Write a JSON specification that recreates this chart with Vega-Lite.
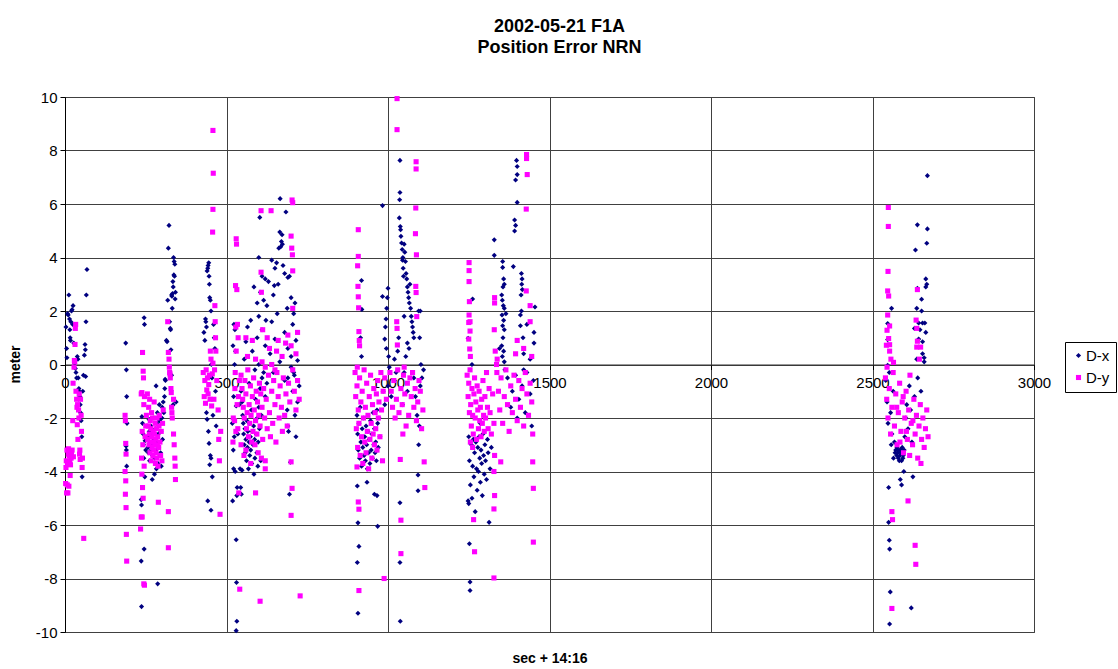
{
"$schema": "https://vega.github.io/schema/vega-lite/v6.json",
"width": 969, "height": 535,
"autosize": "none",
"padding": {"left": 65, "top": 97, "right": 84, "bottom": 37},
"background": "white",
"title": {"text": ["2002-05-21 F1A", "Position Error NRN"], "font": "Liberation Sans", "fontSize": 18, "fontWeight": "bold", "color": "black", "anchor": "middle", "offset": 33, "lineHeight": 21, "dx": 10},
"config": {"view": {"stroke": "#404040", "strokeWidth": 1}, "font": "Liberation Sans"},
"data": {"values": [
{"s":"D-x","t":3,"v":1.4},{"s":"D-x","t":5,"v":0.6},{"s":"D-x","t":6,"v":0.25},{"s":"D-x","t":8,"v":1.9},{"s":"D-x","t":10,"v":1.85},{"s":"D-x","t":12,"v":2.6},{"s":"D-x","t":14,"v":1.7},{"s":"D-x","t":15,"v":1.3},{"s":"D-x","t":16,"v":1.0},{"s":"D-x","t":17,"v":0.9},{"s":"D-x","t":18,"v":1.6},{"s":"D-x","t":20,"v":2.0},{"s":"D-x","t":22,"v":2.05},{"s":"D-x","t":24,"v":1.5},{"s":"D-x","t":25,"v":2.2},{"s":"D-x","t":27,"v":0.8},{"s":"D-x","t":30,"v":0.05},{"s":"D-x","t":32,"v":-0.15},{"s":"D-x","t":34,"v":-0.3},{"s":"D-x","t":36,"v":-0.5},{"s":"D-x","t":38,"v":0.3},{"s":"D-x","t":40,"v":0.2},{"s":"D-x","t":41,"v":-0.5},{"s":"D-x","t":43,"v":-0.9},{"s":"D-x","t":44,"v":-1.0},{"s":"D-x","t":46,"v":-1.2},{"s":"D-x","t":47,"v":-1.5},{"s":"D-x","t":48,"v":-1.8},{"s":"D-x","t":50,"v":-2.1},{"s":"D-x","t":52,"v":-2.7},{"s":"D-x","t":53,"v":-4.2},{"s":"D-x","t":55,"v":-1.0},{"s":"D-x","t":57,"v":-0.4},{"s":"D-x","t":60,"v":0.35},{"s":"D-x","t":62,"v":0.75},{"s":"D-x","t":63,"v":0.55},{"s":"D-x","t":65,"v":1.6},{"s":"D-x","t":66,"v":2.6},{"s":"D-x","t":68,"v":3.55},{"s":"D-x","t":64,"v":-0.45},
{"s":"D-x","t":188,"v":0.8},{"s":"D-x","t":190,"v":-0.2},{"s":"D-x","t":191,"v":-1.2},{"s":"D-x","t":192,"v":-2.2},{"s":"D-x","t":189,"v":-3.05},{"s":"D-x","t":190,"v":-3.2},{"s":"D-x","t":191,"v":-3.8},
{"s":"D-x","t":245,"v":1.75},{"s":"D-x","t":246,"v":1.5},{"s":"D-x","t":238,"v":-1.95},{"s":"D-x","t":240,"v":-2.2},{"s":"D-x","t":242,"v":-2.6},{"s":"D-x","t":244,"v":-3.5},{"s":"D-x","t":247,"v":-4.2},{"s":"D-x","t":236,"v":-5.05},{"s":"D-x","t":237,"v":-5.25},{"s":"D-x","t":245,"v":-6.9},{"s":"D-x","t":236,"v":-7.35},{"s":"D-x","t":237,"v":-9.05},{"s":"D-x","t":243,"v":-3.0},{"s":"D-x","t":248,"v":-2.85},{"s":"D-x","t":250,"v":-3.2},
{"s":"D-x","t":255,"v":-2.7},{"s":"D-x","t":257,"v":-3.1},{"s":"D-x","t":258,"v":-3.3},{"s":"D-x","t":260,"v":-2.05},{"s":"D-x","t":261,"v":-2.5},{"s":"D-x","t":262,"v":-3.6},{"s":"D-x","t":263,"v":-2.9},{"s":"D-x","t":265,"v":-3.0},{"s":"D-x","t":266,"v":-2.3},{"s":"D-x","t":267,"v":-3.2},{"s":"D-x","t":268,"v":-2.7},{"s":"D-x","t":270,"v":-4.3},{"s":"D-x","t":271,"v":-3.4},{"s":"D-x","t":272,"v":-2.6},{"s":"D-x","t":273,"v":-2.0},{"s":"D-x","t":275,"v":-3.0},{"s":"D-x","t":276,"v":-2.8},{"s":"D-x","t":277,"v":-4.1},{"s":"D-x","t":278,"v":-3.5},{"s":"D-x","t":280,"v":-2.4},{"s":"D-x","t":281,"v":-3.2},{"s":"D-x","t":282,"v":-0.8},{"s":"D-x","t":283,"v":-3.9},{"s":"D-x","t":284,"v":-2.9},{"s":"D-x","t":285,"v":-2.2},{"s":"D-x","t":286,"v":-1.8},{"s":"D-x","t":287,"v":-8.2},{"s":"D-x","t":288,"v":-3.7},{"s":"D-x","t":289,"v":-2.6},{"s":"D-x","t":290,"v":-3.1},{"s":"D-x","t":292,"v":-1.5},{"s":"D-x","t":293,"v":-2.1},{"s":"D-x","t":294,"v":-3.4},{"s":"D-x","t":296,"v":-3.3},{"s":"D-x","t":297,"v":-2.5},{"s":"D-x","t":298,"v":-3.8},{"s":"D-x","t":300,"v":-2.0},{"s":"D-x","t":301,"v":-1.6},{"s":"D-x","t":302,"v":-2.8},{"s":"D-x","t":304,"v":-1.4},
{"s":"D-x","t":306,"v":-1.8},{"s":"D-x","t":308,"v":-1.2},{"s":"D-x","t":309,"v":-0.9},{"s":"D-x","t":310,"v":-0.55},{"s":"D-x","t":311,"v":-0.6},{"s":"D-x","t":314,"v":0.9},{"s":"D-x","t":316,"v":0.85},{"s":"D-x","t":318,"v":2.4},{"s":"D-x","t":320,"v":4.35},{"s":"D-x","t":322,"v":5.2},{"s":"D-x","t":324,"v":1.6},{"s":"D-x","t":326,"v":1.35},{"s":"D-x","t":327,"v":1.3},{"s":"D-x","t":328,"v":0.55},{"s":"D-x","t":330,"v":2.6},{"s":"D-x","t":331,"v":2.55},{"s":"D-x","t":332,"v":2.1},{"s":"D-x","t":333,"v":2.65},{"s":"D-x","t":334,"v":3.1},{"s":"D-x","t":335,"v":2.9},{"s":"D-x","t":336,"v":4.0},{"s":"D-x","t":337,"v":3.35},{"s":"D-x","t":338,"v":3.85},{"s":"D-x","t":339,"v":3.3},{"s":"D-x","t":340,"v":3.75},{"s":"D-x","t":341,"v":2.45},{"s":"D-x","t":342,"v":2.7},{"s":"D-x","t":335,"v":-1.5},{"s":"D-x","t":330,"v":-0.4},{"s":"D-x","t":344,"v":-1.4},
{"s":"D-x","t":430,"v":1.2},{"s":"D-x","t":433,"v":0.9},{"s":"D-x","t":435,"v":1.7},{"s":"D-x","t":436,"v":1.6},{"s":"D-x","t":438,"v":1.4},{"s":"D-x","t":440,"v":3.5},{"s":"D-x","t":442,"v":3.6},{"s":"D-x","t":443,"v":3.7},{"s":"D-x","t":445,"v":3.8},{"s":"D-x","t":446,"v":3.3},{"s":"D-x","t":447,"v":3.0},{"s":"D-x","t":448,"v":2.5},{"s":"D-x","t":450,"v":2.4},{"s":"D-x","t":452,"v":2.0},{"s":"D-x","t":453,"v":0.0},{"s":"D-x","t":455,"v":-0.5},{"s":"D-x","t":438,"v":-1.8},{"s":"D-x","t":440,"v":-2.05},{"s":"D-x","t":444,"v":-2.5},{"s":"D-x","t":446,"v":-2.95},{"s":"D-x","t":450,"v":-3.4},{"s":"D-x","t":452,"v":-3.5},{"s":"D-x","t":448,"v":-3.75},{"s":"D-x","t":456,"v":-4.2},{"s":"D-x","t":442,"v":-5.1},{"s":"D-x","t":452,"v":-5.45},{"s":"D-x","t":460,"v":1.5},{"s":"D-x","t":462,"v":1.0},{"s":"D-x","t":464,"v":0.6},{"s":"D-x","t":466,"v":-1.0},{"s":"D-x","t":468,"v":-2.3},{"s":"D-x","t":458,"v":-1.9},
{"s":"D-x","t":523,"v":1.5},{"s":"D-x","t":526,"v":1.3},{"s":"D-x","t":520,"v":0.7},{"s":"D-x","t":528,"v":0.5},{"s":"D-x","t":525,"v":0.0},{"s":"D-x","t":522,"v":-1.2},{"s":"D-x","t":530,"v":-1.55},{"s":"D-x","t":518,"v":-2.2},{"s":"D-x","t":524,"v":-2.7},{"s":"D-x","t":521,"v":-3.2},{"s":"D-x","t":522,"v":-3.9},{"s":"D-x","t":527,"v":-4.0},{"s":"D-x","t":533,"v":-4.6},{"s":"D-x","t":532,"v":-4.9},{"s":"D-x","t":519,"v":-5.1},{"s":"D-x","t":530,"v":-6.55},{"s":"D-x","t":531,"v":-8.15},{"s":"D-x","t":532,"v":-9.6},{"s":"D-x","t":530,"v":-9.95},{"s":"D-x","t":535,"v":-2.6},
{"s":"D-x","t":603,"v":5.5},{"s":"D-x","t":666,"v":6.2},{"s":"D-x","t":684,"v":5.7},{"s":"D-x","t":665,"v":4.95},{"s":"D-x","t":672,"v":4.85},{"s":"D-x","t":673,"v":4.5},{"s":"D-x","t":670,"v":4.6},{"s":"D-x","t":668,"v":4.4},{"s":"D-x","t":662,"v":4.35},{"s":"D-x","t":655,"v":3.8},{"s":"D-x","t":600,"v":4.0},{"s":"D-x","t":640,"v":3.9},{"s":"D-x","t":650,"v":3.6},{"s":"D-x","t":675,"v":3.7},{"s":"D-x","t":680,"v":3.4},{"s":"D-x","t":610,"v":3.3},{"s":"D-x","t":620,"v":3.2},{"s":"D-x","t":690,"v":3.25},{"s":"D-x","t":630,"v":3.1},{"s":"D-x","t":660,"v":3.0},{"s":"D-x","t":695,"v":3.3},{"s":"D-x","t":585,"v":2.9},{"s":"D-x","t":605,"v":2.7},{"s":"D-x","t":645,"v":2.6},{"s":"D-x","t":700,"v":2.5},{"s":"D-x","t":615,"v":2.4},{"s":"D-x","t":595,"v":2.3},{"s":"D-x","t":625,"v":2.2},{"s":"D-x","t":688,"v":2.1},{"s":"D-x","t":657,"v":1.9},{"s":"D-x","t":600,"v":1.8},{"s":"D-x","t":575,"v":1.65},{"s":"D-x","t":640,"v":1.6},{"s":"D-x","t":705,"v":1.5},{"s":"D-x","t":565,"v":1.4},{"s":"D-x","t":610,"v":1.3},{"s":"D-x","t":680,"v":1.2},{"s":"D-x","t":595,"v":1.0},{"s":"D-x","t":650,"v":0.95},{"s":"D-x","t":715,"v":0.9},{"s":"D-x","t":560,"v":0.85},{"s":"D-x","t":620,"v":0.7},{"s":"D-x","t":690,"v":0.6},{"s":"D-x","t":580,"v":0.5},{"s":"D-x","t":635,"v":0.4},{"s":"D-x","t":700,"v":0.3},{"s":"D-x","t":555,"v":0.2},{"s":"D-x","t":665,"v":0.1},{"s":"D-x","t":720,"v":0.15},{"s":"D-x","t":600,"v":0.0},{"s":"D-x","t":588,"v":-0.2},{"s":"D-x","t":645,"v":-0.3},{"s":"D-x","t":710,"v":-0.4},{"s":"D-x","t":570,"v":-0.7},{"s":"D-x","t":690,"v":-0.5},{"s":"D-x","t":708,"v":1.9},{"s":"D-x","t":712,"v":2.3},{"s":"D-x","t":700,"v":-0.1},{"s":"D-x","t":622,"v":1.65},{"s":"D-x","t":648,"v":2.95},
{"s":"D-x","t":545,"v":-1.0},{"s":"D-x","t":548,"v":-1.4},{"s":"D-x","t":550,"v":-1.9},{"s":"D-x","t":552,"v":-2.2},{"s":"D-x","t":553,"v":-2.6},{"s":"D-x","t":555,"v":-3.0},{"s":"D-x","t":557,"v":-2.4},{"s":"D-x","t":558,"v":-3.3},{"s":"D-x","t":560,"v":-2.8},{"s":"D-x","t":562,"v":-3.6},{"s":"D-x","t":563,"v":-2.1},{"s":"D-x","t":565,"v":-3.1},{"s":"D-x","t":566,"v":-2.5},{"s":"D-x","t":568,"v":-3.9},{"s":"D-x","t":570,"v":-2.9},{"s":"D-x","t":571,"v":-2.2},{"s":"D-x","t":572,"v":-3.4},{"s":"D-x","t":574,"v":-2.7},{"s":"D-x","t":575,"v":-3.2},{"s":"D-x","t":577,"v":-1.7},{"s":"D-x","t":578,"v":-3.7},{"s":"D-x","t":580,"v":-2.5},{"s":"D-x","t":582,"v":-3.0},{"s":"D-x","t":584,"v":-2.3},{"s":"D-x","t":585,"v":-4.1},{"s":"D-x","t":587,"v":-2.8},{"s":"D-x","t":588,"v":-3.5},{"s":"D-x","t":590,"v":-1.3},{"s":"D-x","t":592,"v":-2.6},{"s":"D-x","t":594,"v":-3.3},{"s":"D-x","t":595,"v":-2.0},{"s":"D-x","t":597,"v":-3.8},{"s":"D-x","t":598,"v":-2.9},{"s":"D-x","t":600,"v":-1.6},{"s":"D-x","t":602,"v":-2.4},{"s":"D-x","t":604,"v":-0.9},{"s":"D-x","t":606,"v":-3.6},{"s":"D-x","t":608,"v":-1.9},{"s":"D-x","t":610,"v":-0.5},{"s":"D-x","t":540,"v":-1.5},{"s":"D-x","t":542,"v":-3.9},{"s":"D-x","t":544,"v":-4.6},{"s":"D-x","t":546,"v":-4.85},{"s":"D-x","t":548,"v":-3.95},{"s":"D-x","t":615,"v":-0.3},{"s":"D-x","t":620,"v":-1.2},{"s":"D-x","t":625,"v":-0.7},{"s":"D-x","t":680,"v":-0.6},{"s":"D-x","t":688,"v":-1.7},{"s":"D-x","t":690,"v":-2.3},{"s":"D-x","t":692,"v":-2.5},{"s":"D-x","t":698,"v":-3.65},{"s":"D-x","t":695,"v":-4.85},{"s":"D-x","t":705,"v":-1.0},{"s":"D-x","t":708,"v":-0.3},{"s":"D-x","t":712,"v":-1.9},{"s":"D-x","t":715,"v":-2.7},{"s":"D-x","t":720,"v":-1.4},{"s":"D-x","t":725,"v":-0.8},
{"s":"D-x","t":918,"v":3.14},{"s":"D-x","t":919,"v":2.06},{"s":"D-x","t":915,"v":1.0},{"s":"D-x","t":918,"v":0.3},{"s":"D-x","t":983,"v":5.94},{"s":"D-x","t":983,"v":2.54},{"s":"D-x","t":990,"v":0.95},{"s":"D-x","t":992,"v":1.4},{"s":"D-x","t":994,"v":1.7},{"s":"D-x","t":996,"v":2.1},{"s":"D-x","t":998,"v":2.5},{"s":"D-x","t":1000,"v":2.85},{"s":"D-x","t":995,"v":0.6},{"s":"D-x","t":1002,"v":0.3},{"s":"D-x","t":1004,"v":-0.1},{"s":"D-x","t":1037,"v":7.63},{"s":"D-x","t":1037,"v":6.43},{"s":"D-x","t":1036,"v":6.16},{"s":"D-x","t":1035,"v":5.48},{"s":"D-x","t":1038,"v":5.16},{"s":"D-x","t":1039,"v":5.04},{"s":"D-x","t":1040,"v":4.79},{"s":"D-x","t":1042,"v":4.54},{"s":"D-x","t":1044,"v":4.3},{"s":"D-x","t":1046,"v":4.0},{"s":"D-x","t":1045,"v":3.9},{"s":"D-x","t":1047,"v":3.6},{"s":"D-x","t":1048,"v":3.3},{"s":"D-x","t":1050,"v":4.5},{"s":"D-x","t":1052,"v":4.2},{"s":"D-x","t":1054,"v":3.85},{"s":"D-x","t":1056,"v":3.4},{"s":"D-x","t":1058,"v":3.2},{"s":"D-x","t":1060,"v":2.9},{"s":"D-x","t":1062,"v":2.7},{"s":"D-x","t":1064,"v":2.5},{"s":"D-x","t":1066,"v":2.3},{"s":"D-x","t":1068,"v":3.0},{"s":"D-x","t":1070,"v":2.1},{"s":"D-x","t":1072,"v":1.8},{"s":"D-x","t":1074,"v":1.6},{"s":"D-x","t":1076,"v":1.4},{"s":"D-x","t":1078,"v":1.2},{"s":"D-x","t":1080,"v":1.0},{"s":"D-x","t":1060,"v":0.8},{"s":"D-x","t":1030,"v":0.5},{"s":"D-x","t":1033,"v":1.0},{"s":"D-x","t":1020,"v":0.2},{"s":"D-x","t":1025,"v":-0.3},{"s":"D-x","t":1095,"v":2.0},{"s":"D-x","t":1100,"v":2.0},{"s":"D-x","t":1098,"v":1.0},{"s":"D-x","t":1102,"v":0.0},{"s":"D-x","t":1105,"v":-0.5},{"s":"D-x","t":1110,"v":-0.2},{"s":"D-x","t":1050,"v":1.8},{"s":"D-x","t":1055,"v":0.3},{"s":"D-x","t":1065,"v":0.6},
{"s":"D-x","t":904,"v":-1.9},{"s":"D-x","t":906,"v":-2.6},{"s":"D-x","t":908,"v":-3.2},{"s":"D-x","t":910,"v":-2.2},{"s":"D-x","t":912,"v":-3.5},{"s":"D-x","t":914,"v":-1.6},{"s":"D-x","t":916,"v":-2.9},{"s":"D-x","t":918,"v":-3.8},{"s":"D-x","t":920,"v":-2.4},{"s":"D-x","t":922,"v":-3.1},{"s":"D-x","t":924,"v":-2.0},{"s":"D-x","t":926,"v":-3.4},{"s":"D-x","t":928,"v":-2.7},{"s":"D-x","t":930,"v":-3.6},{"s":"D-x","t":932,"v":-2.3},{"s":"D-x","t":934,"v":-3.0},{"s":"D-x","t":936,"v":-3.9},{"s":"D-x","t":938,"v":-2.5},{"s":"D-x","t":940,"v":-3.3},{"s":"D-x","t":942,"v":-2.8},{"s":"D-x","t":944,"v":-3.7},{"s":"D-x","t":946,"v":-2.1},{"s":"D-x","t":948,"v":-3.2},{"s":"D-x","t":950,"v":-2.6},{"s":"D-x","t":952,"v":-3.5},{"s":"D-x","t":954,"v":-1.8},{"s":"D-x","t":956,"v":-3.0},{"s":"D-x","t":958,"v":-2.4},{"s":"D-x","t":960,"v":-3.3},{"s":"D-x","t":962,"v":-2.9},{"s":"D-x","t":964,"v":-3.6},{"s":"D-x","t":966,"v":-1.7},{"s":"D-x","t":968,"v":-2.2},{"s":"D-x","t":970,"v":-3.1},{"s":"D-x","t":972,"v":-2.0},{"s":"D-x","t":975,"v":-2.7},{"s":"D-x","t":905,"v":-4.54},{"s":"D-x","t":935,"v":-4.4},{"s":"D-x","t":958,"v":-4.85},{"s":"D-x","t":966,"v":-4.9},{"s":"D-x","t":907,"v":-5.92},{"s":"D-x","t":968,"v":-6.05},{"s":"D-x","t":910,"v":-6.8},{"s":"D-x","t":905,"v":-7.4},{"s":"D-x","t":907,"v":-9.3},{"s":"D-x","t":1037,"v":-5.17},{"s":"D-x","t":1037,"v":-7.4},{"s":"D-x","t":1038,"v":-9.6},{"s":"D-x","t":1093,"v":-4.13},{"s":"D-x","t":1093,"v":-4.72},{"s":"D-x","t":1095,"v":-3.0},{"s":"D-x","t":1097,"v":-2.3},{"s":"D-x","t":1090,"v":-1.9},{"s":"D-x","t":1085,"v":-1.2},{"s":"D-x","t":1100,"v":-0.8},{"s":"D-x","t":1080,"v":-0.5},{"s":"D-x","t":1060,"v":-1.0},{"s":"D-x","t":1050,"v":-0.3},{"s":"D-x","t":1045,"v":-1.5},{"s":"D-x","t":1020,"v":-0.6},{"s":"D-x","t":1010,"v":-1.2},{"s":"D-x","t":1000,"v":-0.8},{"s":"D-x","t":985,"v":-1.0},{"s":"D-x","t":990,"v":-1.5},
{"s":"D-x","t":1248,"v":0.98},{"s":"D-x","t":1262,"v":2.45},{"s":"D-x","t":1260,"v":0.0},{"s":"D-x","t":1329,"v":4.66},{"s":"D-x","t":1329,"v":4.08},{"s":"D-x","t":1355,"v":3.85},{"s":"D-x","t":1355,"v":3.63},{"s":"D-x","t":1358,"v":3.2},{"s":"D-x","t":1360,"v":3.0},{"s":"D-x","t":1356,"v":2.9},{"s":"D-x","t":1352,"v":2.6},{"s":"D-x","t":1354,"v":2.4},{"s":"D-x","t":1357,"v":2.2},{"s":"D-x","t":1360,"v":2.1},{"s":"D-x","t":1353,"v":1.85},{"s":"D-x","t":1358,"v":1.65},{"s":"D-x","t":1355,"v":1.45},{"s":"D-x","t":1360,"v":1.3},{"s":"D-x","t":1356,"v":1.0},{"s":"D-x","t":1352,"v":0.7},{"s":"D-x","t":1358,"v":0.5},{"s":"D-x","t":1354,"v":0.3},{"s":"D-x","t":1360,"v":0.1},{"s":"D-x","t":1388,"v":3.66},{"s":"D-x","t":1398,"v":7.63},{"s":"D-x","t":1400,"v":7.4},{"s":"D-x","t":1400,"v":7.1},{"s":"D-x","t":1395,"v":6.9},{"s":"D-x","t":1400,"v":6.06},{"s":"D-x","t":1392,"v":5.4},{"s":"D-x","t":1395,"v":5.2},{"s":"D-x","t":1392,"v":4.99},{"s":"D-x","t":1413,"v":3.4},{"s":"D-x","t":1415,"v":3.2},{"s":"D-x","t":1414,"v":3.0},{"s":"D-x","t":1416,"v":2.8},{"s":"D-x","t":1410,"v":1.85},{"s":"D-x","t":1410,"v":1.45},{"s":"D-x","t":1413,"v":2.0},{"s":"D-x","t":1412,"v":2.6},{"s":"D-x","t":1418,"v":1.0},{"s":"D-x","t":1420,"v":0.4},{"s":"D-x","t":1455,"v":2.15},{"s":"D-x","t":1452,"v":1.2},{"s":"D-x","t":1452,"v":0.8},{"s":"D-x","t":1440,"v":0.2},{"s":"D-x","t":1430,"v":1.5},{"s":"D-x","t":1345,"v":0.6},{"s":"D-x","t":1365,"v":1.9},
{"s":"D-x","t":1250,"v":-2.7},{"s":"D-x","t":1252,"v":-3.6},{"s":"D-x","t":1255,"v":-4.5},{"s":"D-x","t":1258,"v":-3.0},{"s":"D-x","t":1260,"v":-5.0},{"s":"D-x","t":1262,"v":-3.8},{"s":"D-x","t":1264,"v":-2.8},{"s":"D-x","t":1266,"v":-4.2},{"s":"D-x","t":1268,"v":-3.3},{"s":"D-x","t":1270,"v":-5.5},{"s":"D-x","t":1272,"v":-2.9},{"s":"D-x","t":1274,"v":-3.9},{"s":"D-x","t":1276,"v":-4.7},{"s":"D-x","t":1278,"v":-3.1},{"s":"D-x","t":1280,"v":-4.0},{"s":"D-x","t":1282,"v":-2.7},{"s":"D-x","t":1284,"v":-3.5},{"s":"D-x","t":1286,"v":-4.4},{"s":"D-x","t":1288,"v":-3.2},{"s":"D-x","t":1290,"v":-3.7},{"s":"D-x","t":1292,"v":-4.9},{"s":"D-x","t":1294,"v":-2.6},{"s":"D-x","t":1296,"v":-3.4},{"s":"D-x","t":1298,"v":-4.1},{"s":"D-x","t":1300,"v":-3.0},{"s":"D-x","t":1302,"v":-3.6},{"s":"D-x","t":1305,"v":-4.3},{"s":"D-x","t":1308,"v":-2.8},{"s":"D-x","t":1310,"v":-3.3},{"s":"D-x","t":1313,"v":-5.9},{"s":"D-x","t":1316,"v":-3.9},{"s":"D-x","t":1320,"v":-3.1},{"s":"D-x","t":1248,"v":-5.1},{"s":"D-x","t":1250,"v":-5.2},{"s":"D-x","t":1252,"v":-6.7},{"s":"D-x","t":1254,"v":-8.13},{"s":"D-x","t":1254,"v":-8.45},{"s":"D-x","t":1286,"v":-2.2},{"s":"D-x","t":1300,"v":-2.0},
{"s":"D-x","t":1362,"v":-0.2},{"s":"D-x","t":1370,"v":-0.5},{"s":"D-x","t":1385,"v":-1.0},{"s":"D-x","t":1395,"v":-0.4},{"s":"D-x","t":1405,"v":-1.3},{"s":"D-x","t":1415,"v":-0.8},{"s":"D-x","t":1425,"v":-1.8},{"s":"D-x","t":1430,"v":-0.3},{"s":"D-x","t":1440,"v":-1.1},{"s":"D-x","t":1445,"v":-2.3},{"s":"D-x","t":1450,"v":-0.6},{"s":"D-x","t":1380,"v":-1.6},{"s":"D-x","t":1400,"v":-2.0},{"s":"D-x","t":1420,"v":-0.2},
{"s":"D-x","t":2670,"v":7.06},{"s":"D-x","t":2559,"v":2.1},{"s":"D-x","t":2547,"v":1.53},{"s":"D-x","t":2547,"v":0.93},{"s":"D-x","t":2547,"v":-0.03},{"s":"D-x","t":2639,"v":5.22},{"s":"D-x","t":2670,"v":5.07},{"s":"D-x","t":2668,"v":4.53},{"s":"D-x","t":2633,"v":4.28},{"s":"D-x","t":2665,"v":3.2},{"s":"D-x","t":2668,"v":3.0},{"s":"D-x","t":2665,"v":2.9},{"s":"D-x","t":2639,"v":2.85},{"s":"D-x","t":2652,"v":2.44},{"s":"D-x","t":2637,"v":2.1},{"s":"D-x","t":2652,"v":2.0},{"s":"D-x","t":2643,"v":1.55},{"s":"D-x","t":2655,"v":1.55},{"s":"D-x","t":2662,"v":1.55},{"s":"D-x","t":2630,"v":1.35},{"s":"D-x","t":2647,"v":1.3},{"s":"D-x","t":2665,"v":1.2},{"s":"D-x","t":2643,"v":0.95},{"s":"D-x","t":2655,"v":0.85},{"s":"D-x","t":2655,"v":0.4},{"s":"D-x","t":2660,"v":0.25},{"s":"D-x","t":2660,"v":0.1},{"s":"D-x","t":2637,"v":0.2},
{"s":"D-x","t":2541,"v":-0.6},{"s":"D-x","t":2545,"v":-1.4},{"s":"D-x","t":2548,"v":-2.2},{"s":"D-x","t":2552,"v":-0.3},{"s":"D-x","t":2556,"v":-1.8},{"s":"D-x","t":2560,"v":-2.6},{"s":"D-x","t":2564,"v":-1.0},{"s":"D-x","t":2568,"v":-2.9},{"s":"D-x","t":2572,"v":-3.2},{"s":"D-x","t":2575,"v":-3.4},{"s":"D-x","t":2578,"v":-3.3},{"s":"D-x","t":2580,"v":-3.5},{"s":"D-x","t":2582,"v":-3.2},{"s":"D-x","t":2585,"v":-3.4},{"s":"D-x","t":2588,"v":-3.3},{"s":"D-x","t":2590,"v":-3.6},{"s":"D-x","t":2592,"v":-3.1},{"s":"D-x","t":2595,"v":-3.4},{"s":"D-x","t":2598,"v":-3.2},{"s":"D-x","t":2600,"v":-2.7},{"s":"D-x","t":2603,"v":-2.0},{"s":"D-x","t":2606,"v":-1.5},{"s":"D-x","t":2610,"v":-2.4},{"s":"D-x","t":2614,"v":-0.8},{"s":"D-x","t":2618,"v":-1.7},{"s":"D-x","t":2622,"v":-2.9},{"s":"D-x","t":2630,"v":-1.2},{"s":"D-x","t":2640,"v":-0.5},{"s":"D-x","t":2650,"v":-1.0},{"s":"D-x","t":2565,"v":-3.5},{"s":"D-x","t":2570,"v":-3.3},{"s":"D-x","t":2576,"v":-3.1},{"s":"D-x","t":2583,"v":-3.6},{"s":"D-x","t":2587,"v":-3.2},{"s":"D-x","t":2594,"v":-3.5},{"s":"D-x","t":2558,"v":-3.0},{"s":"D-x","t":2597,"v":-4.0},{"s":"D-x","t":2586,"v":-4.3},{"s":"D-x","t":2590,"v":-4.5},{"s":"D-x","t":2625,"v":-4.2},{"s":"D-x","t":2550,"v":-4.6},{"s":"D-x","t":2550,"v":-5.9},{"s":"D-x","t":2552,"v":-6.57},{"s":"D-x","t":2553,"v":-6.9},{"s":"D-x","t":2555,"v":-8.5},{"s":"D-x","t":2620,"v":-9.1},{"s":"D-x","t":2553,"v":-9.7},
{"s":"D-y","t":2,"v":-4.45},{"s":"D-y","t":3,"v":-3.85},{"s":"D-y","t":4,"v":-3.6},{"s":"D-y","t":5,"v":-4.8},{"s":"D-y","t":6,"v":-3.2},{"s":"D-y","t":7,"v":-4.5},{"s":"D-y","t":8,"v":-3.7},{"s":"D-y","t":9,"v":-4.8},{"s":"D-y","t":10,"v":-3.35},{"s":"D-y","t":11,"v":-3.15},{"s":"D-y","t":12,"v":-4.55},{"s":"D-y","t":13,"v":-3.4},{"s":"D-y","t":14,"v":-3.3},{"s":"D-y","t":15,"v":-3.6},{"s":"D-y","t":16,"v":-4.15},{"s":"D-y","t":17,"v":-3.75},{"s":"D-y","t":19,"v":-3.5},{"s":"D-y","t":20,"v":-3.3},{"s":"D-y","t":22,"v":-3.2},{"s":"D-y","t":24,"v":-2.1},{"s":"D-y","t":25,"v":-0.7},{"s":"D-y","t":26,"v":-3.45},{"s":"D-y","t":28,"v":-0.1},{"s":"D-y","t":29,"v":0.15},{"s":"D-y","t":30,"v":0.1},{"s":"D-y","t":31,"v":0.75},{"s":"D-y","t":32,"v":1.35},{"s":"D-y","t":33,"v":1.5},{"s":"D-y","t":34,"v":-1.0},{"s":"D-y","t":36,"v":-1.3},{"s":"D-y","t":37,"v":-1.6},{"s":"D-y","t":38,"v":-2.25},{"s":"D-y","t":39,"v":-1.5},{"s":"D-y","t":40,"v":-2.8},{"s":"D-y","t":42,"v":-1.7},{"s":"D-y","t":43,"v":-2.0},{"s":"D-y","t":44,"v":-1.1},{"s":"D-y","t":45,"v":-3.35},{"s":"D-y","t":46,"v":-3.2},{"s":"D-y","t":47,"v":-3.55},{"s":"D-y","t":48,"v":-1.3},{"s":"D-y","t":50,"v":-1.9},{"s":"D-y","t":51,"v":-2.5},{"s":"D-y","t":53,"v":-3.85},{"s":"D-y","t":54,"v":-3.5},{"s":"D-y","t":58,"v":-6.5},
{"s":"D-y","t":186,"v":-1.9},{"s":"D-y","t":187,"v":-2.1},{"s":"D-y","t":188,"v":-2.95},{"s":"D-y","t":189,"v":-3.35},{"s":"D-y","t":186,"v":-4.0},{"s":"D-y","t":188,"v":-4.35},{"s":"D-y","t":187,"v":-4.85},{"s":"D-y","t":189,"v":-5.35},{"s":"D-y","t":190,"v":-6.35},{"s":"D-y","t":191,"v":-7.35},
{"s":"D-y","t":240,"v":0.45},{"s":"D-y","t":242,"v":-0.25},{"s":"D-y","t":243,"v":-0.5},{"s":"D-y","t":238,"v":-1.05},{"s":"D-y","t":236,"v":-1.1},{"s":"D-y","t":244,"v":-1.5},{"s":"D-y","t":246,"v":-1.2},{"s":"D-y","t":239,"v":-2.5},{"s":"D-y","t":241,"v":-3.0},{"s":"D-y","t":237,"v":-3.5},{"s":"D-y","t":245,"v":-3.8},{"s":"D-y","t":238,"v":-4.1},{"s":"D-y","t":240,"v":-4.6},{"s":"D-y","t":242,"v":-5.0},{"s":"D-y","t":236,"v":-5.7},{"s":"D-y","t":239,"v":-5.7},{"s":"D-y","t":234,"v":-6.15},{"s":"D-y","t":244,"v":-8.2},{"s":"D-y","t":246,"v":-8.25},{"s":"D-y","t":248,"v":-2.7},{"s":"D-y","t":250,"v":-2.3},{"s":"D-y","t":252,"v":-1.9},
{"s":"D-y","t":255,"v":-1.1},{"s":"D-y","t":256,"v":-2.8},{"s":"D-y","t":258,"v":-2.3},{"s":"D-y","t":259,"v":-1.6},{"s":"D-y","t":260,"v":-3.0},{"s":"D-y","t":261,"v":-2.6},{"s":"D-y","t":262,"v":-1.3},{"s":"D-y","t":263,"v":-3.3},{"s":"D-y","t":264,"v":-2.1},{"s":"D-y","t":265,"v":-2.9},{"s":"D-y","t":266,"v":-2.4},{"s":"D-y","t":267,"v":-3.6},{"s":"D-y","t":268,"v":-1.8},{"s":"D-y","t":269,"v":-2.7},{"s":"D-y","t":270,"v":-3.1},{"s":"D-y","t":271,"v":-2.0},{"s":"D-y","t":272,"v":-3.4},{"s":"D-y","t":273,"v":-2.5},{"s":"D-y","t":274,"v":-2.9},{"s":"D-y","t":275,"v":-3.2},{"s":"D-y","t":276,"v":-1.4},{"s":"D-y","t":277,"v":-2.6},{"s":"D-y","t":278,"v":-3.0},{"s":"D-y","t":279,"v":-2.2},{"s":"D-y","t":280,"v":-3.7},{"s":"D-y","t":281,"v":-2.8},{"s":"D-y","t":282,"v":-3.3},{"s":"D-y","t":283,"v":-2.4},{"s":"D-y","t":284,"v":-3.5},{"s":"D-y","t":285,"v":-2.0},{"s":"D-y","t":286,"v":-3.0},{"s":"D-y","t":287,"v":-2.7},{"s":"D-y","t":288,"v":-3.8},{"s":"D-y","t":289,"v":-5.15},{"s":"D-y","t":290,"v":-3.1},{"s":"D-y","t":291,"v":-2.3},{"s":"D-y","t":292,"v":-1.9},{"s":"D-y","t":294,"v":-2.9},{"s":"D-y","t":296,"v":-3.4},{"s":"D-y","t":298,"v":-2.5},{"s":"D-y","t":300,"v":-3.6},{"s":"D-y","t":302,"v":-2.2},{"s":"D-y","t":304,"v":-1.7},
{"s":"D-y","t":318,"v":1.6},{"s":"D-y","t":320,"v":0.45},{"s":"D-y","t":322,"v":0.2},{"s":"D-y","t":323,"v":-0.1},{"s":"D-y","t":324,"v":-0.3},{"s":"D-y","t":325,"v":-0.35},{"s":"D-y","t":326,"v":-0.5},{"s":"D-y","t":328,"v":-0.9},{"s":"D-y","t":329,"v":-1.05},{"s":"D-y","t":330,"v":-1.6},{"s":"D-y","t":331,"v":-1.8},{"s":"D-y","t":332,"v":-2.0},{"s":"D-y","t":336,"v":-2.6},{"s":"D-y","t":338,"v":-3.0},{"s":"D-y","t":340,"v":-3.5},{"s":"D-y","t":341,"v":-3.8},{"s":"D-y","t":342,"v":-4.3},{"s":"D-y","t":320,"v":-5.5},{"s":"D-y","t":320,"v":-6.85},{"s":"D-y","t":336,"v":-1.3},
{"s":"D-y","t":428,"v":-0.3},{"s":"D-y","t":431,"v":-1.2},{"s":"D-y","t":433,"v":-0.6},{"s":"D-y","t":435,"v":-1.45},{"s":"D-y","t":437,"v":-0.2},{"s":"D-y","t":439,"v":-0.95},{"s":"D-y","t":441,"v":-0.5},{"s":"D-y","t":443,"v":-1.1},{"s":"D-y","t":445,"v":-0.75},{"s":"D-y","t":447,"v":-0.4},{"s":"D-y","t":449,"v":-1.3},{"s":"D-y","t":450,"v":0.5},{"s":"D-y","t":452,"v":0.2},{"s":"D-y","t":454,"v":-1.55},{"s":"D-y","t":456,"v":-0.35},{"s":"D-y","t":458,"v":0.05},{"s":"D-y","t":458,"v":8.75},{"s":"D-y","t":459,"v":7.15},{"s":"D-y","t":458,"v":5.8},{"s":"D-y","t":457,"v":4.95},{"s":"D-y","t":464,"v":2.2},{"s":"D-y","t":465,"v":1.6},{"s":"D-y","t":466,"v":1.0},{"s":"D-y","t":467,"v":0.5},{"s":"D-y","t":463,"v":-0.2},{"s":"D-y","t":470,"v":-0.6},{"s":"D-y","t":461,"v":-1.3},{"s":"D-y","t":474,"v":-1.7},{"s":"D-y","t":476,"v":-2.8},{"s":"D-y","t":478,"v":-3.6},{"s":"D-y","t":480,"v":-5.6},{"s":"D-y","t":482,"v":-2.5},
{"s":"D-y","t":530,"v":4.7},{"s":"D-y","t":531,"v":4.5},{"s":"D-y","t":528,"v":2.95},{"s":"D-y","t":532,"v":2.8},{"s":"D-y","t":534,"v":1.5},{"s":"D-y","t":529,"v":1.4},{"s":"D-y","t":536,"v":1.0},{"s":"D-y","t":530,"v":0.5},{"s":"D-y","t":527,"v":-0.3},{"s":"D-y","t":526,"v":-0.9},{"s":"D-y","t":533,"v":-1.5},{"s":"D-y","t":521,"v":-2.0},{"s":"D-y","t":525,"v":-2.1},{"s":"D-y","t":535,"v":-2.4},{"s":"D-y","t":529,"v":-2.5},{"s":"D-y","t":520,"v":-2.9},{"s":"D-y","t":538,"v":-4.8},{"s":"D-y","t":541,"v":-8.4},{"s":"D-y","t":540,"v":-0.6},{"s":"D-y","t":537,"v":-1.2},
{"s":"D-y","t":607,"v":5.75},{"s":"D-y","t":638,"v":5.75},{"s":"D-y","t":703,"v":6.15},{"s":"D-y","t":705,"v":6.05},{"s":"D-y","t":700,"v":4.8},{"s":"D-y","t":702,"v":4.35},{"s":"D-y","t":704,"v":4.1},{"s":"D-y","t":607,"v":3.45},{"s":"D-y","t":705,"v":3.5},{"s":"D-y","t":608,"v":2.7},{"s":"D-y","t":705,"v":2.1},{"s":"D-y","t":612,"v":1.3},{"s":"D-y","t":626,"v":1.0},{"s":"D-y","t":690,"v":1.1},{"s":"D-y","t":720,"v":1.2},{"s":"D-y","t":633,"v":0.6},{"s":"D-y","t":655,"v":0.5},{"s":"D-y","t":683,"v":0.8},{"s":"D-y","t":700,"v":0.7},{"s":"D-y","t":565,"v":0.3},{"s":"D-y","t":590,"v":0.2},{"s":"D-y","t":610,"v":0.1},{"s":"D-y","t":640,"v":0.0},{"s":"D-y","t":672,"v":0.3},{"s":"D-y","t":715,"v":0.4},{"s":"D-y","t":580,"v":0.9},{"s":"D-y","t":560,"v":1.0},{"s":"D-y","t":620,"v":-0.1},{"s":"D-y","t":650,"v":-0.2},{"s":"D-y","t":660,"v":0.9},
{"s":"D-y","t":545,"v":-0.4},{"s":"D-y","t":548,"v":-0.9},{"s":"D-y","t":550,"v":-1.3},{"s":"D-y","t":552,"v":-1.6},{"s":"D-y","t":555,"v":-2.0},{"s":"D-y","t":557,"v":-0.6},{"s":"D-y","t":560,"v":-1.1},{"s":"D-y","t":562,"v":-2.4},{"s":"D-y","t":564,"v":-1.8},{"s":"D-y","t":566,"v":-0.2},{"s":"D-y","t":568,"v":-2.7},{"s":"D-y","t":570,"v":-1.5},{"s":"D-y","t":572,"v":-2.2},{"s":"D-y","t":574,"v":-0.8},{"s":"D-y","t":576,"v":-1.9},{"s":"D-y","t":578,"v":-2.9},{"s":"D-y","t":580,"v":-1.2},{"s":"D-y","t":582,"v":-2.5},{"s":"D-y","t":584,"v":-0.5},{"s":"D-y","t":586,"v":-1.7},{"s":"D-y","t":588,"v":-3.0},{"s":"D-y","t":590,"v":-2.1},{"s":"D-y","t":592,"v":-1.0},{"s":"D-y","t":594,"v":-2.6},{"s":"D-y","t":596,"v":-1.4},{"s":"D-y","t":598,"v":-3.3},{"s":"D-y","t":600,"v":-1.9},{"s":"D-y","t":602,"v":-0.7},{"s":"D-y","t":604,"v":-2.3},{"s":"D-y","t":606,"v":-1.1},{"s":"D-y","t":608,"v":-3.5},{"s":"D-y","t":610,"v":-1.6},{"s":"D-y","t":612,"v":-2.8},{"s":"D-y","t":615,"v":-0.9},{"s":"D-y","t":618,"v":-2.0},{"s":"D-y","t":620,"v":-3.6},{"s":"D-y","t":623,"v":-1.3},{"s":"D-y","t":626,"v":-2.4},{"s":"D-y","t":630,"v":-0.4},{"s":"D-y","t":633,"v":-1.8},{"s":"D-y","t":636,"v":-2.7},{"s":"D-y","t":640,"v":-1.0},{"s":"D-y","t":643,"v":-2.2},{"s":"D-y","t":646,"v":-0.6},{"s":"D-y","t":650,"v":-1.5},{"s":"D-y","t":653,"v":-2.9},{"s":"D-y","t":656,"v":-0.3},{"s":"D-y","t":660,"v":-1.2},{"s":"D-y","t":663,"v":-2.0},{"s":"D-y","t":666,"v":-0.8},{"s":"D-y","t":670,"v":-1.6},{"s":"D-y","t":673,"v":-2.5},{"s":"D-y","t":676,"v":-0.5},{"s":"D-y","t":680,"v":-1.9},{"s":"D-y","t":684,"v":-1.1},{"s":"D-y","t":688,"v":-2.3},{"s":"D-y","t":692,"v":-0.7},{"s":"D-y","t":696,"v":-1.4},{"s":"D-y","t":700,"v":-3.64},{"s":"D-y","t":703,"v":-4.63},{"s":"D-y","t":700,"v":-5.64},{"s":"D-y","t":705,"v":-0.2},{"s":"D-y","t":710,"v":-1.0},{"s":"D-y","t":715,"v":-1.7},{"s":"D-y","t":720,"v":-0.6},{"s":"D-y","t":725,"v":-1.3},{"s":"D-y","t":620,"v":-3.9},{"s":"D-y","t":560,"v":-3.2},{"s":"D-y","t":575,"v":-3.7},{"s":"D-y","t":590,"v":-4.8},{"s":"D-y","t":604,"v":-8.85},{"s":"D-y","t":545,"v":-3.0},{"s":"D-y","t":554,"v":-3.4},{"s":"D-y","t":728,"v":-8.65},
{"s":"D-y","t":908,"v":5.04},{"s":"D-y","t":908,"v":4.04},{"s":"D-y","t":906,"v":3.69},{"s":"D-y","t":907,"v":2.92},{"s":"D-y","t":908,"v":2.53},{"s":"D-y","t":909,"v":2.12},{"s":"D-y","t":910,"v":1.23},{"s":"D-y","t":911,"v":0.9},{"s":"D-y","t":912,"v":0.7},{"s":"D-y","t":905,"v":-0.1},{"s":"D-y","t":1028,"v":9.94},{"s":"D-y","t":1028,"v":8.78},{"s":"D-y","t":1027,"v":1.6},{"s":"D-y","t":1028,"v":1.35},{"s":"D-y","t":1029,"v":0.73},{"s":"D-y","t":1087,"v":7.58},{"s":"D-y","t":1087,"v":7.31},{"s":"D-y","t":1086,"v":5.85},{"s":"D-y","t":1085,"v":4.89},{"s":"D-y","t":1088,"v":4.1},{"s":"D-y","t":1086,"v":2.92},{"s":"D-y","t":1087,"v":2.69},{"s":"D-y","t":1089,"v":1.79},
{"s":"D-y","t":898,"v":-0.3},{"s":"D-y","t":900,"v":-1.2},{"s":"D-y","t":902,"v":-2.4},{"s":"D-y","t":904,"v":-0.8},{"s":"D-y","t":906,"v":-3.1},{"s":"D-y","t":908,"v":-1.7},{"s":"D-y","t":910,"v":-2.2},{"s":"D-y","t":912,"v":-0.5},{"s":"D-y","t":914,"v":-3.4},{"s":"D-y","t":916,"v":-1.4},{"s":"D-y","t":918,"v":-2.7},{"s":"D-y","t":920,"v":-1.0},{"s":"D-y","t":922,"v":-3.7},{"s":"D-y","t":924,"v":-2.0},{"s":"D-y","t":926,"v":-0.2},{"s":"D-y","t":928,"v":-2.9},{"s":"D-y","t":930,"v":-1.6},{"s":"D-y","t":932,"v":-3.3},{"s":"D-y","t":934,"v":-0.7},{"s":"D-y","t":936,"v":-2.5},{"s":"D-y","t":938,"v":-1.9},{"s":"D-y","t":940,"v":-3.9},{"s":"D-y","t":942,"v":-1.2},{"s":"D-y","t":944,"v":-2.8},{"s":"D-y","t":946,"v":-0.4},{"s":"D-y","t":948,"v":-2.2},{"s":"D-y","t":950,"v":-3.5},{"s":"D-y","t":952,"v":-1.5},{"s":"D-y","t":954,"v":-2.6},{"s":"D-y","t":956,"v":-0.9},{"s":"D-y","t":958,"v":-3.0},{"s":"D-y","t":960,"v":-1.8},{"s":"D-y","t":962,"v":-2.4},{"s":"D-y","t":964,"v":-1.1},{"s":"D-y","t":966,"v":-3.2},{"s":"D-y","t":968,"v":-0.6},{"s":"D-y","t":970,"v":-2.0},{"s":"D-y","t":972,"v":-1.4},{"s":"D-y","t":975,"v":-2.7},{"s":"D-y","t":978,"v":-0.3},{"s":"D-y","t":980,"v":-1.7},{"s":"D-y","t":983,"v":-3.6},{"s":"D-y","t":904,"v":-3.83},{"s":"D-y","t":908,"v":-5.14},{"s":"D-y","t":910,"v":-5.41},{"s":"D-y","t":988,"v":-8.0},{"s":"D-y","t":910,"v":-8.45},{"s":"D-y","t":985,"v":-1.0},{"s":"D-y","t":990,"v":-0.5},{"s":"D-y","t":995,"v":-1.3},
{"s":"D-y","t":1006,"v":-0.3},{"s":"D-y","t":1010,"v":-1.0},{"s":"D-y","t":1014,"v":-1.6},{"s":"D-y","t":1018,"v":-0.6},{"s":"D-y","t":1022,"v":-2.0},{"s":"D-y","t":1026,"v":-1.3},{"s":"D-y","t":1030,"v":-0.2},{"s":"D-y","t":1034,"v":-1.8},{"s":"D-y","t":1038,"v":-3.55},{"s":"D-y","t":1040,"v":-0.9},{"s":"D-y","t":1044,"v":-1.5},{"s":"D-y","t":1048,"v":-0.4},{"s":"D-y","t":1052,"v":-1.1},{"s":"D-y","t":1056,"v":-2.3},{"s":"D-y","t":1060,"v":-0.7},{"s":"D-y","t":1064,"v":-1.9},{"s":"D-y","t":1068,"v":-0.5},{"s":"D-y","t":1072,"v":-1.2},{"s":"D-y","t":1076,"v":-0.3},{"s":"D-y","t":1080,"v":-1.6},{"s":"D-y","t":1084,"v":-0.9},{"s":"D-y","t":1088,"v":-2.1},{"s":"D-y","t":1092,"v":-1.4},{"s":"D-y","t":1096,"v":-0.6},{"s":"D-y","t":1100,"v":-1.0},{"s":"D-y","t":1104,"v":-2.4},{"s":"D-y","t":1108,"v":-1.7},{"s":"D-y","t":1112,"v":-3.64},{"s":"D-y","t":1114,"v":-4.6},{"s":"D-y","t":1040,"v":-5.82},{"s":"D-y","t":1040,"v":-7.07},{"s":"D-y","t":1046,"v":-2.6},{"s":"D-y","t":1050,"v":-0.1},
{"s":"D-y","t":1251,"v":3.81},{"s":"D-y","t":1251,"v":3.51},{"s":"D-y","t":1251,"v":3.1},{"s":"D-y","t":1252,"v":2.35},{"s":"D-y","t":1251,"v":1.85},{"s":"D-y","t":1250,"v":1.57},{"s":"D-y","t":1254,"v":1.6},{"s":"D-y","t":1254,"v":1.25},{"s":"D-y","t":1250,"v":0.95},{"s":"D-y","t":1253,"v":0.58},{"s":"D-y","t":1255,"v":0.3},{"s":"D-y","t":1330,"v":2.5},{"s":"D-y","t":1330,"v":2.3},{"s":"D-y","t":1329,"v":1.3},{"s":"D-y","t":1332,"v":0.5},{"s":"D-y","t":1338,"v":0.2},{"s":"D-y","t":1336,"v":0.0},{"s":"D-y","t":1429,"v":7.85},{"s":"D-y","t":1429,"v":7.7},{"s":"D-y","t":1431,"v":7.1},{"s":"D-y","t":1428,"v":5.81},{"s":"D-y","t":1428,"v":2.75},{"s":"D-y","t":1440,"v":2.2},{"s":"D-y","t":1440,"v":1.6},{"s":"D-y","t":1400,"v":0.9},{"s":"D-y","t":1395,"v":0.4},{"s":"D-y","t":1420,"v":0.6},{"s":"D-y","t":1445,"v":0.3},
{"s":"D-y","t":1245,"v":-0.4},{"s":"D-y","t":1248,"v":-1.2},{"s":"D-y","t":1250,"v":-0.7},{"s":"D-y","t":1252,"v":-1.8},{"s":"D-y","t":1254,"v":-0.2},{"s":"D-y","t":1256,"v":-1.5},{"s":"D-y","t":1258,"v":-2.3},{"s":"D-y","t":1260,"v":-0.9},{"s":"D-y","t":1262,"v":-1.9},{"s":"D-y","t":1264,"v":-2.6},{"s":"D-y","t":1266,"v":-1.1},{"s":"D-y","t":1268,"v":-0.5},{"s":"D-y","t":1270,"v":-2.0},{"s":"D-y","t":1272,"v":-1.4},{"s":"D-y","t":1274,"v":-2.8},{"s":"D-y","t":1276,"v":-0.8},{"s":"D-y","t":1278,"v":-1.7},{"s":"D-y","t":1280,"v":-2.4},{"s":"D-y","t":1282,"v":-1.0},{"s":"D-y","t":1284,"v":-2.1},{"s":"D-y","t":1286,"v":-1.6},{"s":"D-y","t":1288,"v":-2.7},{"s":"D-y","t":1290,"v":-1.3},{"s":"D-y","t":1292,"v":-2.2},{"s":"D-y","t":1294,"v":-0.6},{"s":"D-y","t":1296,"v":-1.9},{"s":"D-y","t":1298,"v":-2.5},{"s":"D-y","t":1300,"v":-1.2},{"s":"D-y","t":1302,"v":-2.0},{"s":"D-y","t":1305,"v":-0.3},{"s":"D-y","t":1308,"v":-1.6},{"s":"D-y","t":1310,"v":-2.4},{"s":"D-y","t":1313,"v":-0.9},{"s":"D-y","t":1316,"v":-1.8},{"s":"D-y","t":1320,"v":-2.6},{"s":"D-y","t":1324,"v":-1.1},{"s":"D-y","t":1328,"v":-2.2},{"s":"D-y","t":1255,"v":-2.9},{"s":"D-y","t":1262,"v":-3.1},{"s":"D-y","t":1265,"v":-5.8},{"s":"D-y","t":1330,"v":-3.4},{"s":"D-y","t":1328,"v":-4.0},{"s":"D-y","t":1330,"v":-4.9},{"s":"D-y","t":1328,"v":-5.4},{"s":"D-y","t":1268,"v":-7.0},{"s":"D-y","t":1328,"v":-7.98},
{"s":"D-y","t":1337,"v":-0.3},{"s":"D-y","t":1342,"v":-1.0},{"s":"D-y","t":1346,"v":-1.7},{"s":"D-y","t":1350,"v":-0.5},{"s":"D-y","t":1355,"v":-2.2},{"s":"D-y","t":1360,"v":-1.2},{"s":"D-y","t":1365,"v":-0.2},{"s":"D-y","t":1370,"v":-1.5},{"s":"D-y","t":1375,"v":-2.5},{"s":"D-y","t":1380,"v":-0.8},{"s":"D-y","t":1385,"v":-1.8},{"s":"D-y","t":1390,"v":-0.4},{"s":"D-y","t":1395,"v":-1.3},{"s":"D-y","t":1400,"v":-2.1},{"s":"D-y","t":1405,"v":-0.6},{"s":"D-y","t":1410,"v":-1.6},{"s":"D-y","t":1415,"v":-0.9},{"s":"D-y","t":1420,"v":-2.3},{"s":"D-y","t":1425,"v":-0.3},{"s":"D-y","t":1430,"v":-1.1},{"s":"D-y","t":1435,"v":-1.9},{"s":"D-y","t":1440,"v":-0.7},{"s":"D-y","t":1445,"v":-1.4},{"s":"D-y","t":1448,"v":-2.6},{"s":"D-y","t":1349,"v":-3.64},{"s":"D-y","t":1448,"v":-3.64},{"s":"D-y","t":1450,"v":-4.63},{"s":"D-y","t":1450,"v":-6.64},
{"s":"D-y","t":2549,"v":5.87},{"s":"D-y","t":2549,"v":5.16},{"s":"D-y","t":2548,"v":3.48},{"s":"D-y","t":2547,"v":2.75},{"s":"D-y","t":2550,"v":2.56},{"s":"D-y","t":2547,"v":1.85},{"s":"D-y","t":2553,"v":1.44},{"s":"D-y","t":2545,"v":1.28},{"s":"D-y","t":2550,"v":0.97},{"s":"D-y","t":2543,"v":0.72},{"s":"D-y","t":2553,"v":0.74},{"s":"D-y","t":2553,"v":0.5},{"s":"D-y","t":2557,"v":0.2},{"s":"D-y","t":2565,"v":0.08},{"s":"D-y","t":2639,"v":2.8},{"s":"D-y","t":2635,"v":1.66},{"s":"D-y","t":2637,"v":1.35},{"s":"D-y","t":2639,"v":0.87},{"s":"D-y","t":2637,"v":0.65},{"s":"D-y","t":2649,"v":0.65},{"s":"D-y","t":2645,"v":0.2},
{"s":"D-y","t":2540,"v":-0.5},{"s":"D-y","t":2544,"v":-1.3},{"s":"D-y","t":2548,"v":-2.0},{"s":"D-y","t":2552,"v":-0.9},{"s":"D-y","t":2556,"v":-2.6},{"s":"D-y","t":2560,"v":-1.6},{"s":"D-y","t":2564,"v":-0.3},{"s":"D-y","t":2568,"v":-2.3},{"s":"D-y","t":2572,"v":-1.1},{"s":"D-y","t":2576,"v":-3.0},{"s":"D-y","t":2580,"v":-1.8},{"s":"D-y","t":2584,"v":-0.7},{"s":"D-y","t":2588,"v":-2.5},{"s":"D-y","t":2592,"v":-1.4},{"s":"D-y","t":2596,"v":-3.3},{"s":"D-y","t":2600,"v":-2.0},{"s":"D-y","t":2604,"v":-1.0},{"s":"D-y","t":2608,"v":-2.8},{"s":"D-y","t":2612,"v":-1.7},{"s":"D-y","t":2616,"v":-0.4},{"s":"D-y","t":2620,"v":-2.2},{"s":"D-y","t":2624,"v":-3.0},{"s":"D-y","t":2628,"v":-1.3},{"s":"D-y","t":2632,"v":-2.6},{"s":"D-y","t":2636,"v":-1.9},{"s":"D-y","t":2640,"v":-3.5},{"s":"D-y","t":2644,"v":-2.3},{"s":"D-y","t":2648,"v":-1.5},{"s":"D-y","t":2652,"v":-2.8},{"s":"D-y","t":2656,"v":-2.0},{"s":"D-y","t":2660,"v":-3.1},{"s":"D-y","t":2664,"v":-2.4},{"s":"D-y","t":2668,"v":-1.7},{"s":"D-y","t":2672,"v":-2.7},{"s":"D-y","t":2575,"v":-1.6},{"s":"D-y","t":2585,"v":-2.9},{"s":"D-y","t":2595,"v":-1.2},{"s":"D-y","t":2605,"v":-2.5},{"s":"D-y","t":2615,"v":-3.4},{"s":"D-y","t":2625,"v":-2.1},{"s":"D-y","t":2650,"v":-3.7},{"s":"D-y","t":2610,"v":-5.1},{"s":"D-y","t":2560,"v":-5.5},{"s":"D-y","t":2562,"v":-5.8},{"s":"D-y","t":2632,"v":-6.76},{"s":"D-y","t":2634,"v":-7.47},{"s":"D-y","t":2560,"v":-9.12},{"s":"D-y","t":2545,"v":-0.1}
]},
"mark": {"type": "point", "filled": true, "opacity": 1, "size": 26},
"encoding": {
 "x": {"field": "t", "type": "quantitative", "scale": {"domain": [0, 3000], "nice": false, "zero": false},
  "axis": {"values": [0, 500, 1000, 1500, 2000, 2500, 3000], "format": "d", "offset": -267.5, "grid": true, "gridColor": "#404040", "gridOpacity": 1, "domain": true, "domainColor": "#303030", "ticks": true, "tickColor": "black", "tickSize": 5, "labelFont": "Liberation Sans", "labelFontSize": 15, "labelColor": "black", "labelPadding": 6, "labelFlush": false, "labelOverlap": false, "title": "sec + 14:16", "titleFont": "Liberation Sans", "titleFontSize": 14, "titleFontWeight": "bold", "titleColor": "black", "titleY": 294, "titleBaseline": "middle"}},
 "y": {"field": "v", "type": "quantitative", "scale": {"domain": [-10, 10], "nice": false},
  "axis": {"values": [-10, -8, -6, -4, -2, 0, 2, 4, 6, 8, 10], "labelExpr": "toString(datum.value)", "grid": true, "gridColor": "#404040", "gridOpacity": 1, "domain": true, "domainColor": "black", "ticks": true, "tickColor": "black", "tickSize": 5, "labelFont": "Liberation Sans", "labelFontSize": 15, "labelColor": "black", "labelPadding": 3, "title": "meter", "titleFont": "Liberation Sans", "titleFontSize": 14, "titleFontWeight": "bold", "titleColor": "black", "titleX": -50, "titleY": 267, "titleBaseline": "middle", "titleAlign": "center"}},
 "color": {"field": "s", "type": "nominal", "scale": {"domain": ["D-x", "D-y"], "range": ["#000080", "#FF00FF"]},
  "legend": {"orient": "none", "legendX": 1000, "legendY": 245, "title": null, "strokeColor": "black", "fillColor": "white", "padding": 6, "labelFont": "Liberation Sans", "labelFontSize": 15, "labelColor": "black", "labelOffset": 0, "rowPadding": 6, "symbolSize": 26}},
 "shape": {"field": "s", "type": "nominal", "scale": {"domain": ["D-x", "D-y"], "range": ["diamond", "square"]}}
}
}
